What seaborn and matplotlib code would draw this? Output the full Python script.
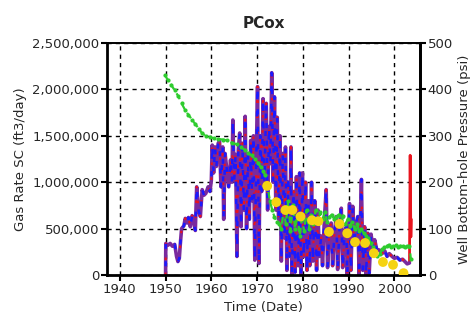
import matplotlib
matplotlib.use("Agg")
import matplotlib.pyplot as plt
import matplotlib.ticker as mticker
import seaborn as sns
import pandas as pd

# ---------------- data ----------------
gas_years = [1950.0, 1950.05, 1950.5, 1951.0, 1951.5, 1952.0, 1952.4, 1952.7, 1953.0, 1953.2,
             1953.5, 1954.0, 1954.3, 1954.7, 1955.0, 1955.4, 1955.8, 1956.2, 1956.5, 1956.8,
             1957.2, 1957.6, 1958.0, 1958.4, 1958.8, 1959.3, 1959.7, 1960.0, 1960.2, 1960.5,
             1960.8, 1961.1, 1961.5, 1961.8, 1962.1, 1962.5, 1962.7, 1963.0, 1963.4, 1963.8,
             1964.2, 1964.5, 1964.7, 1965.0, 1965.3, 1965.6, 1965.9, 1966.2, 1966.5, 1966.8,
             1967.1, 1967.4, 1967.7, 1968.0, 1968.3, 1968.6, 1968.9, 1969.2, 1969.5, 1969.8,
             1970.1, 1970.4, 1970.7, 1971.0, 1971.3, 1971.6, 1972.0, 1972.3, 1972.6, 1972.9,
             1973.2, 1973.5, 1973.8, 1974.1, 1974.4, 1974.7, 1975.0, 1975.3, 1975.6, 1976.0,
             1976.2, 1976.5, 1976.8, 1977.1, 1977.4, 1977.6, 1978.0, 1978.3, 1978.6, 1979.0,
             1979.3, 1979.6, 1979.9, 1980.2, 1980.6, 1980.9, 1981.2, 1981.5, 1981.9, 1982.2,
             1982.6, 1983.0, 1983.3, 1983.6, 1984.0, 1984.3, 1984.7, 1985.1, 1985.4, 1985.8,
             1986.2, 1986.5, 1986.9, 1987.3, 1987.6, 1988.0, 1988.4, 1988.7, 1989.1, 1989.5,
             1989.7, 1990.2, 1990.5, 1990.9, 1991.2, 1991.6, 1992.0, 1992.3, 1992.8, 1993.1,
             1993.5, 1993.8, 1994.2, 1994.5, 1994.9, 1995.3, 1995.7, 1996.2, 1996.7, 1997.3,
             1997.9, 1998.4, 1998.9, 1999.5, 2000.0, 2000.6, 2001.2, 2001.8, 2002.4, 2002.8,
             2003.3]
gas_rate = [0, 340, 320, 340, 310, 330, 200, 145, 180, 320,
            500, 530, 610, 560, 620, 520, 640, 560, 480, 950,
            700, 630, 920, 860, 880, 950, 900, 1020, 1400, 1100,
            1380, 1170, 1420, 1440, 950, 1380, 600, 1310, 1130, 950,
            1240, 1000, 1670, 1020, 1300, 200, 1350, 1530, 520, 1420,
            700, 1710, 500, 1300, 600, 1450, 800, 1500, 160, 1200,
            2030, 125, 1500, 900, 1900, 1000, 1850, 700, 1600, 1200,
            2180, 1000, 1920, 700, 1700, 600, 1500, 150, 1310, 400,
            1380, 50, 1000, 200, 1380, 0, 900, 30, 1060, 100,
            1100, 0, 1100, 200, 1000, 50, 800, 100, 1000, 150,
            800, 50, 700, 200, 420, 100, 600, 920, 80, 500,
            560, 100, 450, 630, 60, 500, 720, 80, 450, 520,
            0, 770, 50, 740, 320, 550, 630, 0, 1030, 50,
            520, 0, 450, 20, 440, 300, 380, 260, 270, 230,
            260, 200, 230, 200, 180, 190, 160, 170, 140, 120,
            130]
spike_years = [2003.3, 2003.45, 2003.6, 2003.7]
spike_rate = [130, 1290, 410, 600]

bhp_years = [1949.8, 1950.5, 1951.2, 1952.0, 1952.8, 1953.5, 1954.3, 1955.0, 1955.8, 1956.5,
             1957.3, 1958.0, 1958.8, 1959.6, 1960.5, 1961.5, 1962.5, 1963.5, 1964.5, 1965.5,
             1966.5, 1967.3, 1968.0, 1968.8, 1969.5, 1970.2, 1970.8, 1971.3, 1971.8, 1972.3,
             1972.8, 1973.3, 1973.8, 1974.3, 1974.8, 1975.3, 1975.8, 1976.3, 1976.8, 1977.3,
             1977.8, 1978.3, 1978.8, 1979.3, 1979.8, 1980.3, 1980.8, 1981.3, 1981.8, 1982.3,
             1982.8, 1983.3, 1983.8, 1984.3, 1984.8, 1985.3, 1985.8, 1986.3, 1986.8, 1987.3,
             1987.8, 1988.3, 1988.8, 1989.3, 1989.8, 1990.3, 1990.8, 1991.3, 1991.8, 1992.3,
             1992.8, 1993.3, 1993.8, 1994.3, 1994.8, 1995.3, 1995.8, 1996.3, 1996.8, 1997.3,
             1997.8, 1998.3, 1998.8, 1999.3, 1999.8, 2000.3, 2000.8, 2001.3, 2001.8, 2002.3,
             2002.8, 2003.3, 2003.6]
bhp_calc = [432, 420, 410, 398, 385, 370, 355, 345, 335, 325,
            315, 305, 300, 297, 295, 293, 292, 290, 285, 282,
            275, 270, 262, 258, 250, 242, 232, 225, 215, 190,
            160, 140, 125, 115, 110, 100, 140, 110, 160, 95,
            150, 100, 130, 85, 120, 95, 140, 100, 130, 110,
            140, 115, 135, 120, 135, 115, 125, 130, 120, 125,
            130, 118, 128, 110, 120, 105, 115, 100, 110, 95,
            100, 90, 85, 80, 70, 60, 50, 40, 45, 55,
            60, 62, 65, 60, 62, 65, 60, 63, 62, 60,
            62, 62, 35]

meas_years = [1972.2, 1974.2, 1976.2, 1977.7, 1979.5, 1982.0, 1983.4, 1985.7,
              1988.0, 1989.7, 1991.4, 1993.6, 1995.5, 1997.5, 1999.7, 2002.0]
meas_bhp = [192, 157, 140, 140, 126, 118, 116, 93,
            110, 90, 71, 69, 47, 28, 22, 4]

x_ticks = [1940, 1950, 1960, 1970, 1980, 1990, 2000]
gas_ticks = [0, 500000, 1000000, 1500000, 2000000, 2500000]
psi_ticks = [0, 100, 200, 300, 400, 500]

# ---------------- figure ----------------
sns.set_style("white")
plt.rcParams['font.family'] = ['DejaVu Sans']

fig = plt.figure(figsize=(4.7, 3.23), dpi=100)
ax = fig.add_axes([107/470, 1-275/323, (420-107)/470, (275-43)/323])

gas_df = pd.DataFrame({"year": gas_years, "rate": [v * 1000 for v in gas_rate]})
spike_df = pd.DataFrame({"year": spike_years, "rate": [v * 1000 for v in spike_rate]})
bhp_df = pd.DataFrame({"year": bhp_years, "psi": bhp_calc})
meas_df = pd.DataFrame({"year": meas_years, "psi": meas_bhp})

sns.lineplot(data=spike_df, x="year", y="rate", ax=ax, color="#e8141e", lw=2.0,
             estimator=None, sort=False)
sns.lineplot(data=gas_df, x="year", y="rate", ax=ax, color="#7a2a9e", lw=2.6,
             estimator=None, sort=False)
sns.lineplot(data=gas_df, x="year", y="rate", ax=ax, color="#e8141e", lw=1.5,
             estimator=None, sort=False, linestyle=(0, (1.2, 6)))
sns.lineplot(data=gas_df, x="year", y="rate", ax=ax, color="#1a1aff", lw=1.8,
             estimator=None, sort=False, linestyle=(3.5, (2.0, 5)))

ax.set_xlim(1937.2, 2005.6)
ax.set_ylim(0, 2500000)
ax.set_xticks(x_ticks)
ax.set_yticks(gas_ticks)
ax.yaxis.set_major_formatter(mticker.FuncFormatter(lambda v, p: f"{int(v):,}"))
ax.grid(True, color="black", linestyle=(0, (3, 3)), lw=1.0)
ax.set_axisbelow(True)
ax.set_xlabel("Time (Date)", fontsize=9.5, labelpad=4)
ax.set_ylabel("Gas Rate SC (ft3/day)", fontsize=9.5, labelpad=4)
ax.set_title("PCox", fontsize=11, fontweight="bold", pad=11)
ax.tick_params(axis="both", labelsize=9.5, length=4, width=1.5, color="black",
               direction="out", pad=1.5, left=True, bottom=True)

ax2 = ax.twinx()
sns.lineplot(data=bhp_df, x="year", y="psi", ax=ax2, color="#2ecc2e", lw=1.6,
             linestyle=(0, (3, 2)), marker="o", markersize=3, markeredgewidth=0,
             estimator=None, sort=False)
sns.scatterplot(data=meas_df, x="year", y="psi", ax=ax2, color="#f5d312",
                s=50, edgecolor="none", zorder=5)
ax2.set_ylim(0, 500)
ax2.set_yticks(psi_ticks)
ax2.set_ylabel("Well Bottom-hole Pressure (psi)", fontsize=9.5, labelpad=4)
ax2.tick_params(axis="y", labelsize=9.5, length=4, width=1.5, color="black",
                direction="out", pad=1.5, right=True)
ax2.grid(False)

for a in (ax, ax2):
    for side in ("left", "bottom", "right"):
        a.spines[side].set_linewidth(2.0)
        a.spines[side].set_color("black")
    a.spines["top"].set_linewidth(1.2)
    a.spines["top"].set_color("black")
ax2.spines["left"].set_visible(False)
ax2.spines["bottom"].set_visible(False)

fig.savefig("out.png", dpi=100, facecolor="white")
